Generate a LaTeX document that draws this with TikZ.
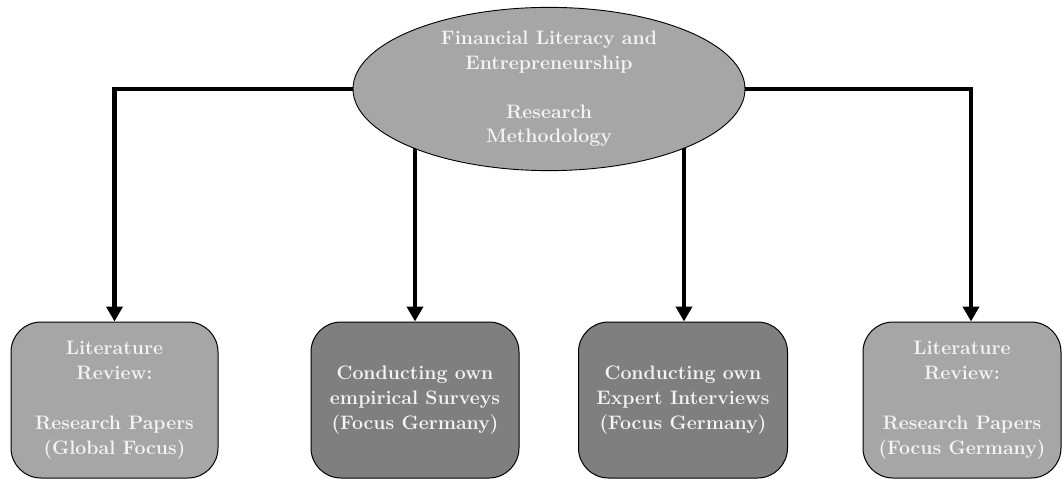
\documentclass[tikz,border=0pt]{standalone}
\usetikzlibrary{shapes.geometric,arrows.meta,backgrounds}
\definecolor{lightfill}{HTML}{A6A6A6}
\definecolor{darkfill}{HTML}{7F7F7F}
\definecolor{labeltext}{HTML}{F4F4F4}
\begin{document}
\begin{tikzpicture}[x=1pt,y=-1pt,
  hub/.style={ellipse,draw=black,line width=0.9pt,fill=lightfill,
    minimum width=392pt,minimum height=160pt,inner sep=0pt,
    text=labeltext,font=\fontsize{19.5}{24.5}\selectfont\bfseries,align=center},
  card/.style={rectangle,rounded corners=30pt,draw=black,line width=1pt,
    minimum height=156pt,inner sep=0pt,
    text=labeltext,font=\fontsize{19.5}{25}\selectfont\bfseries,align=center},
  conn/.style={line width=4.8pt,-{Triangle[width=16pt,length=15pt]}}]
\useasboundingbox (0,0) rectangle (1063,479);

% central topic
\node[hub] (ell) at (549,89) {Financial Literacy and\\Entrepreneurship\\[24.5pt]Research\\Methodology};

% four method boxes (text nudged down a little inside each box)
\node[card,fill=lightfill,minimum width=207pt,text depth=4pt] (b1) at (114.5,400)
  {Literature\\Review:\\[25pt]Research Papers\\(Global Focus)};
\node[card,fill=darkfill,minimum width=208pt,text depth=4pt] (b2) at (415,400)
  {Conducting own\\empirical Surveys\\(Focus Germany)};
\node[card,fill=darkfill,minimum width=209pt,text depth=4pt] (b3) at (683,400)
  {Conducting own\\Expert Interviews\\(Focus Germany)};
\node[card,fill=lightfill,minimum width=198pt,text depth=4pt] (b4) at (962,400)
  {Literature\\Review:\\[25pt]Research Papers\\(Focus Germany)};

% connectors run behind the ellipse
\begin{scope}[on background layer]
  \draw[conn] (ell.west) -| (b1.north);
  \draw[conn] (ell.east) -| ([xshift=9pt]b4.north);
  \draw[conn] (b2.north |- ell.center) -- (b2.north);
  \draw[conn] ([xshift=1pt]b3.north |- ell.center) -- ([xshift=1pt]b3.north);
\end{scope}
\end{tikzpicture}
\end{document}
